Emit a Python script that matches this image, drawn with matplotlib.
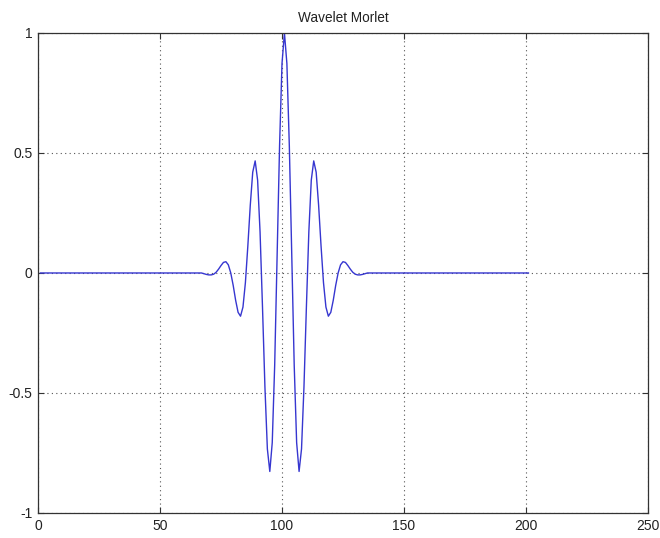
import matplotlib
matplotlib.use('Agg')
import matplotlib.pyplot as plt

plt.rcParams['font.family'] = ['Liberation Sans', 'DejaVu Sans']

# sample index 1..201, wavelet centred on sample 101
x_start = 1
n_samples = 201
center = 101
# right half of the wavelet (offset 0 .. 33 from the centre)
half_wave = [1.000, 0.873, 0.530, 0.068, -0.384, -0.707, -0.827, -0.733,
             -0.475, -0.141, 0.172, 0.387, 0.467, 0.420, 0.283, 0.113,
             -0.040, -0.142, -0.180, -0.164, -0.114, -0.052, 0.000, 0.034,
             0.047, 0.044, 0.031, 0.016, 0.003, -0.005, -0.008, -0.008,
             -0.006, -0.003]

x_ticks = [0, 50, 100, 150, 200, 250]
y_ticks = [-1, -0.5, 0, 0.5, 1]
y_tick_labels = ['-1', '-0.5', '0', '0.5', '1']

x = list(range(x_start, x_start + n_samples))
y = []
for xi in x:
    k = abs(xi - center)
    y.append(half_wave[k] if k < len(half_wave) else 0.0)

fig = plt.figure(figsize=(6.6, 5.38), dpi=100)
ax = fig.add_axes([0.0576, 0.0465, 0.9242, 0.8922])

ax.plot(x, y, color='#3636d0', lw=1.0)

ax.set_xlim(0, 250)
ax.set_ylim(-1, 1)
ax.set_xticks(x_ticks)
ax.set_yticks(y_ticks)
ax.set_yticklabels(y_tick_labels)
ax.grid(True, color='#555555', linestyle=(0, (1, 3)), lw=0.8)
ax.tick_params(direction='in', top=True, right=True, length=4, labelsize=10,
               pad=4, colors='#333333', labelcolor='#222222')
for s in ax.spines.values():
    s.set_linewidth(0.9)
    s.set_color('#333333')
ax.set_title('Wavelet Morlet', fontsize=9.8, pad=8, color='#222222')

plt.savefig('out.png', dpi=100)
